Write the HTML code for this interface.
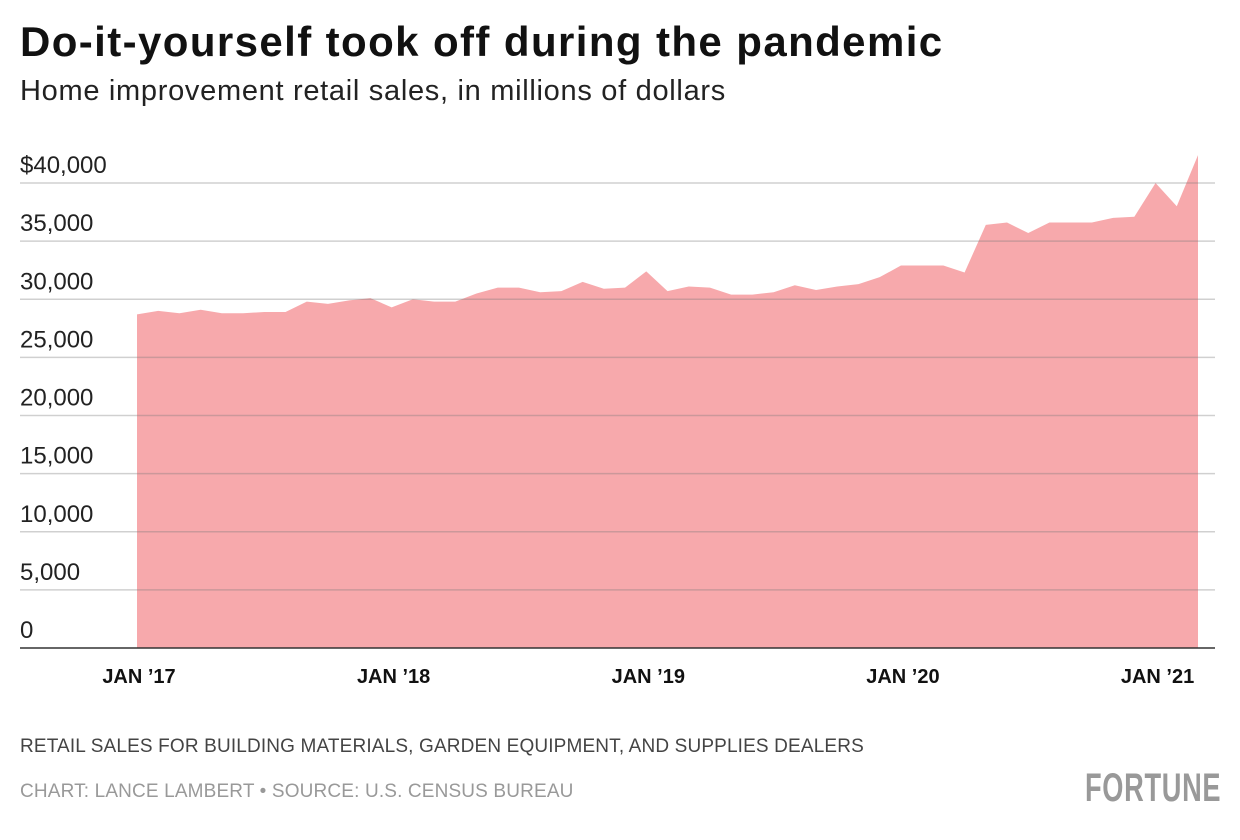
<!DOCTYPE html>
<html><head><meta charset="utf-8"><style>
body{margin:0;background:#fff;width:1240px;height:840px;overflow:hidden;font-family:"Liberation Sans",sans-serif;position:relative}
.t{position:absolute;margin:0;white-space:nowrap}
</style></head><body>
<h1 class="t" style="left:20px;top:18px;font-size:42px;font-weight:bold;color:#111;letter-spacing:1.4px">Do-it-yourself took off during the pandemic</h1>
<div class="t" style="left:20px;top:75px;font-size:29px;color:#222;letter-spacing:0.7px">Home improvement retail sales, in millions of dollars</div>
<svg id="chart" width="1240" height="720" style="position:absolute;left:0;top:0"></svg>
<div class="t" style="left:20px;top:736px;font-size:19px;color:#444;letter-spacing:0.15px">RETAIL SALES FOR BUILDING MATERIALS, GARDEN EQUIPMENT, AND SUPPLIES DEALERS</div>
<div class="t" style="left:20px;top:781px;font-size:19px;color:#999;letter-spacing:0.15px">CHART: LANCE LAMBERT • SOURCE: U.S. CENSUS BUREAU</div>
<div class="t" style="left:1085px;top:766px;font-size:40px;font-weight:bold;color:#999;transform:scaleX(0.68);transform-origin:left top;letter-spacing:1px">FORTUNE</div>
<script>
const values=[28.7,29.0,28.8,29.1,28.8,28.8,28.9,28.9,29.8,29.6,29.9,30.1,29.3,30.0,29.8,29.8,30.5,31.0,31.0,30.6,30.7,31.5,30.9,31.0,32.4,30.7,31.1,31.0,30.4,30.4,30.6,31.2,30.8,31.1,31.3,31.9,32.9,32.9,32.9,32.3,36.4,36.6,35.7,36.6,36.6,36.6,37.0,37.1,40.0,38.0,42.4];
const yTicks=[0,5000,10000,15000,20000,25000,30000,35000,40000];
const yTickLabels=["0","5,000","10,000","15,000","20,000","25,000","30,000","35,000","$40,000"];
const xTickMonths=[0,12,24,36,48];
const xTickLabels=["JAN ’17","JAN ’18","JAN ’19","JAN ’20","JAN ’21"];
const NS="http://www.w3.org/2000/svg";
const svg=document.getElementById('chart');
const x=m=>137+m*(1061/50);
const y=v=>648-v*465/40000;
function mk(t,a){const e=document.createElementNS(NS,t);for(const k in a)e.setAttribute(k,a[k]);svg.appendChild(e);return e;}
let d=`M${x(0)},${y(0)}`;
values.forEach((v,i)=>{d+=` L${x(i)},${y(v*1000)}`;});
d+=` L${x(values.length-1)},${y(0)}Z`;
const area=mk('path',{d:d,fill:'#f7a9ac'});


yTicks.forEach((t,i)=>{
 const g=mk('line',{x1:20,x2:1215,y1:y(t),y2:y(t),stroke:t===0?'#333':'rgba(120,120,120,0.35)','stroke-width':1.5});
 
 
 const l=mk('text',{x:20,y:y(t)-10,'font-size':24,fill:'#222','font-family':'Liberation Sans, sans-serif'});
 l.textContent=yTickLabels[i];
 
 
});
xTickMonths.forEach((m,i)=>{
 const l=mk('text',{x:x(m)+2,y:683,'font-size':20,'font-weight':'bold',fill:'#111','text-anchor':'middle','font-family':'Liberation Sans, sans-serif'});
 l.textContent=xTickLabels[i];
 
 
});
</script>
</body></html>
